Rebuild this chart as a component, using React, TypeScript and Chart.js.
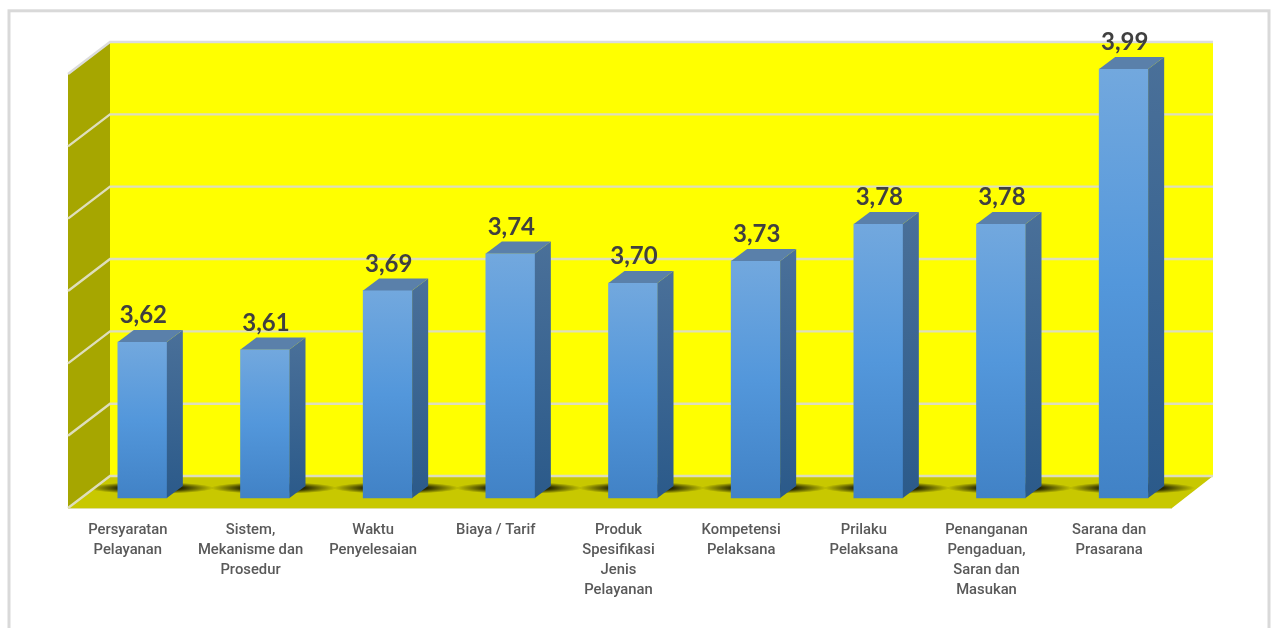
import React, { useEffect, useRef } from "react";
import { Chart, registerables } from "chart.js";

Chart.register(...registerables);

const categories: string[][] = [
  ["Persyaratan", "Pelayanan"],
  ["Sistem,", "Mekanisme dan", "Prosedur"],
  ["Waktu", "Penyelesaian"],
  ["Biaya / Tarif"],
  ["Produk", "Spesifikasi", "Jenis", "Pelayanan"],
  ["Kompetensi", "Pelaksana"],
  ["Prilaku", "Pelaksana"],
  ["Penanganan", "Pengaduan,", "Saran dan", "Masukan"],
  ["Sarana dan", "Prasarana"],
];
const scores: number[] = [3.62, 3.61, 3.69, 3.74, 3.7, 3.73, 3.78, 3.78, 3.99];
const wallTicks: number[] = [3.4, 3.5, 3.6, 3.7, 3.8, 3.9, 4.0];
const barBase = 3.4087;

const BAR_SHIFT = 13;
const BAR_DX = 16;
const BAR_DY = 12;
const WALL_DX = 42;
const WALL_DY = 32;

const fmt = (v: number) => v.toFixed(2).replace(".", ",");

function poly(ctx: CanvasRenderingContext2D, pts: number[][], fill: string | CanvasGradient) {
  ctx.beginPath();
  pts.forEach(([x, y], i) => (i ? ctx.lineTo(x, y) : ctx.moveTo(x, y)));
  ctx.closePath();
  ctx.fillStyle = fill;
  ctx.fill();
}

const box3d = {
  id: "box3d",
  beforeDraw(chart: any) {
    const { ctx, width, height } = chart;
    ctx.save();
    ctx.fillStyle = "#ffffff";
    ctx.fillRect(0, 0, width, height);
    ctx.strokeStyle = "#d9d9d9";
    ctx.lineWidth = 3;
    ctx.strokeRect(9, 10.8, 1260, 800);
    ctx.restore();
  },
  beforeDatasetsDraw(chart: any) {
    const { ctx, chartArea, scales } = chart;
    const wall = scales.wall;
    const L = chartArea.left;
    const R = chartArea.right;
    const bottom = wall.getPixelForValue(wallTicks[0]);
    const top = wall.getPixelForValue(wallTicks[wallTicks.length - 1]);
    const backL = L + WALL_DX;
    const backR = R + WALL_DX - 1;
    const frontY = bottom + WALL_DY;
    ctx.save();
    // back wall
    poly(ctx, [[backL, top], [backR, top], [backR, bottom], [backL, bottom]], "#ffff00");
    // left wall
    poly(ctx, [[L, top + WALL_DY], [backL, top], [backL, bottom], [L, frontY]], "#a6a600");
    // floor
    const floor = [[L, frontY], [R, frontY], [backR, bottom], [backL, bottom]];
    poly(ctx, floor, "#c8c800");
    // floor shadows
    ctx.save();
    ctx.beginPath();
    floor.forEach(([x, y], i) => (i ? ctx.lineTo(x, y) : ctx.moveTo(x, y)));
    ctx.closePath();
    ctx.clip();
    chart.getDatasetMeta(0).data.forEach((el: any) => {
      const cx = el.x - el.width / 2 + BAR_SHIFT + 33;
      const cy = el.base - 10;
      ctx.save();
      ctx.translate(cx, cy);
      ctx.scale(63, 6);
      const g = ctx.createRadialGradient(0, 0, 0, 0, 0, 1);
      g.addColorStop(0, "rgba(0,0,0,0.9)");
      g.addColorStop(0.5, "rgba(0,0,0,0.8)");
      g.addColorStop(0.75, "rgba(0,0,0,0.4)");
      g.addColorStop(1, "rgba(0,0,0,0)");
      ctx.fillStyle = g;
      ctx.beginPath();
      ctx.arc(0, 0, 1, 0, Math.PI * 2);
      ctx.fill();
      ctx.restore();
    });
    ctx.restore();
    // grid lines
    ctx.lineWidth = 2.4;
    wallTicks.forEach((t, i) => {
      const y = wall.getPixelForValue(t);
      ctx.strokeStyle = i === wallTicks.length - 1 ? "#dcdcdc" : "#dedebc";
      ctx.beginPath();
      ctx.moveTo(L, y + WALL_DY);
      ctx.lineTo(backL, y);
      ctx.lineTo(backR, y);
      ctx.stroke();
    });
    ctx.strokeStyle = "#dedea0";
    ctx.lineWidth = 1;
    ctx.beginPath();
    ctx.moveTo(L, frontY + 0.5);
    ctx.lineTo(R, frontY + 0.5);
    ctx.stroke();
    ctx.restore();
  },
  beforeDatasetDraw(chart: any) {
    chart.ctx.save();
    chart.ctx.translate(BAR_SHIFT, 0);
  },
  afterDatasetDraw(chart: any) {
    chart.ctx.restore();
  },
  afterDatasetsDraw(chart: any) {
    const { ctx } = chart;
    ctx.save();
    chart.getDatasetMeta(0).data.forEach((el: any, i: number) => {
      const l = el.x - el.width / 2 + BAR_SHIFT;
      const r = el.x + el.width / 2 + BAR_SHIFT;
      const t = el.y;
      const b = el.base;
      const side = ctx.createLinearGradient(0, t - BAR_DY, 0, b);
      side.addColorStop(0, "#4a7099");
      side.addColorStop(1, "#2b5a8a");
      poly(ctx, [[r, t], [r + BAR_DX, t - BAR_DY], [r + BAR_DX, b - BAR_DY], [r, b]], side);
      poly(ctx, [[l, t], [l + BAR_DX, t - BAR_DY], [r + BAR_DX, t - BAR_DY], [r, t]], "#5a80aa");
      ctx.fillStyle = "#404040";
      ctx.font = "700 24px Lato";
      ctx.textAlign = "center";
      ctx.textBaseline = "middle";
      ctx.fillText(fmt(scores[i]), el.x + BAR_SHIFT + 1, t - 26.5);
    });
    ctx.restore();
  },
};

export default function App() {
  const ref = useRef<HTMLCanvasElement | null>(null);
  useEffect(() => {
    const canvas = ref.current!;
    const chart = new Chart(canvas, {
      type: "bar",
      data: {
        labels: categories,
        datasets: [
          {
            data: scores,
            base: barBase,
            clip: false,
            barThickness: 49,
            backgroundColor: (c: any) => {
              const y = c.chart.scales.y;
              const top = y && typeof c.raw === "number" ? y.getPixelForValue(c.raw) : NaN;
              const bottom = y ? y.bottom : NaN;
              if (!Number.isFinite(top) || !Number.isFinite(bottom)) return "#5296da";
              const g = c.chart.ctx.createLinearGradient(0, top, 0, bottom);
              g.addColorStop(0, "#72a8de");
              g.addColorStop(0.5, "#5397db");
              g.addColorStop(1, "#4182c6");
              return g;
            },
          } as any,
        ],
      },
      options: {
        animation: false,
        responsive: false,
        devicePixelRatio: 1,
        layout: { padding: { left: 68, right: 99, top: 42, bottom: 0 } },
        plugins: { legend: { display: false }, tooltip: { enabled: false } },
        scales: {
          x: {
            grid: { display: false, drawTicks: false },
            border: { display: false },
            afterFit: (s: any) => {
              s.height = 130;
            },
            ticks: {
              autoSkip: false,
              maxRotation: 0,
              minRotation: 0,
              padding: 22,
              labelOffset: -1.5,
              color: "#595959",
              font: { family: "Roboto", size: 14.8, weight: "500", lineHeight: "20px" },
            },
          },
          y: { type: "linear", display: false, min: barBase, max: 4.0267 },
          wall: { type: "linear", axis: "y", display: false, min: 3.3696, max: 4.0 },
        },
      } as any,
      plugins: [box3d as any],
    });
    return () => chart.destroy();
  }, []);
  return (
    <div style={{ position: "absolute", left: 0, top: 0, width: 1271, height: 628, overflow: "hidden" }}>
      <canvas ref={ref} width={1271} height={628} style={{ display: "block" }} />
    </div>
  );
}
